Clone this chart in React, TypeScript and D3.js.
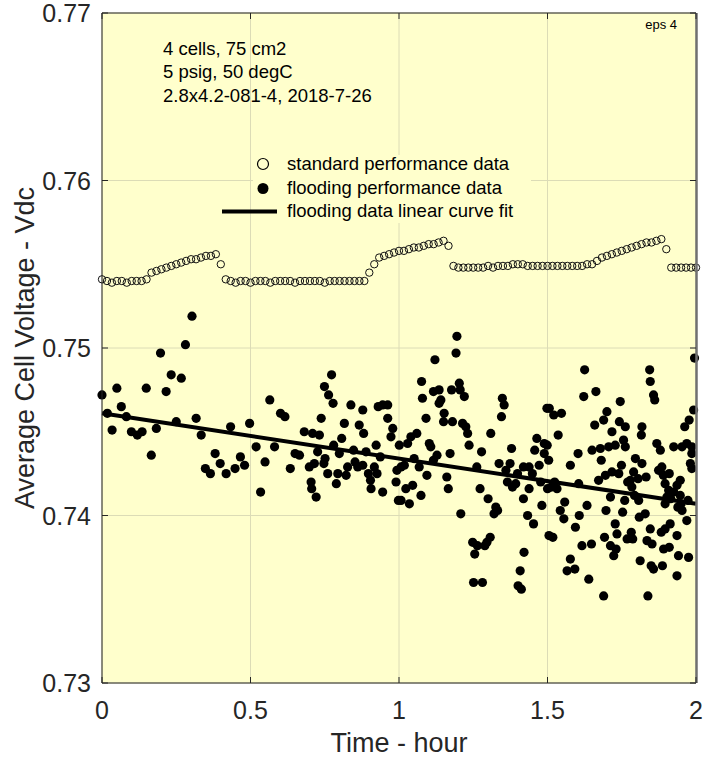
import React from "react";
import * as d3 from "d3";

// ---------- data ----------
const xTicks = [0, 0.5, 1, 1.5, 2];
const xTickLabels = ["0", "0.5", "1", "1.5", "2"];
const yTicks = [0.73, 0.74, 0.75, 0.76, 0.77];
const yTickLabels = ["0.73", "0.74", "0.75", "0.76", "0.77"];

// standard performance data, one sample per minute (0..120 min)
const stdV = [
  0.7541,
  0.7540, 0.7539, 0.7540, 0.7540, 0.7539, 0.7540, 0.7540, 0.7540, 0.7541,
  0.7545, 0.7546, 0.7547, 0.7548, 0.7549, 0.7550, 0.7551, 0.7552, 0.7553, 0.7553, 0.7554, 0.7555, 0.7555, 0.7556,
  0.7550,
  0.7541, 0.7540, 0.7539, 0.7540, 0.7540, 0.7539, 0.7540, 0.7540, 0.7540, 0.7539, 0.7540, 0.7540, 0.7540, 0.7540, 0.7539,
  0.7540, 0.7540, 0.7540, 0.7540, 0.7540, 0.7539, 0.7540, 0.7540, 0.7540, 0.7540, 0.7540, 0.7540, 0.7540, 0.7540,
  0.7545, 0.7550, 0.7554, 0.7555, 0.7556, 0.7557, 0.7558, 0.7558, 0.7559, 0.7560, 0.7560, 0.7561, 0.7562, 0.7562, 0.7563, 0.7564, 0.7561,
  0.7549, 0.7548, 0.7548, 0.7548, 0.7548, 0.7548, 0.7548, 0.7549, 0.7548, 0.7549, 0.7549, 0.7549, 0.7550, 0.7550, 0.7550,
  0.7549, 0.7549, 0.7549, 0.7549, 0.7549, 0.7549, 0.7549, 0.7549, 0.7549, 0.7549, 0.7549, 0.7549, 0.7550, 0.7550,
  0.7552, 0.7554, 0.7555, 0.7556, 0.7557, 0.7558, 0.7559, 0.7560, 0.7561, 0.7562, 0.7563, 0.7563, 0.7564, 0.7565,
  0.7559,
  0.7548, 0.7548, 0.7548, 0.7548, 0.7548, 0.7548,
];
const stdT = stdV.map((_, i) => i / 60);

// flooding performance data (time in hours, voltage)
const floodT = [
  0.000, 0.018, 0.050, 0.065, 0.082, 0.034, 0.099, 0.119, 0.135, 0.149, 0.166, 0.183, 0.197, 0.216, 0.233, 0.267,
  0.250, 0.281, 0.303, 0.317, 0.334, 0.348, 0.365, 0.381, 0.398, 0.418, 0.433, 0.448, 0.466, 0.480, 0.497,
  0.519, 0.549, 0.534, 0.565, 0.581, 0.601, 0.616, 0.634, 0.650, 0.665, 0.681, 0.709, 0.732, 0.738, 0.698, 0.715,
  0.704, 0.706, 0.721, 0.726, 0.751, 0.747, 0.760, 0.773, 0.749, 0.763, 0.778, 0.789, 0.794, 0.780, 0.799, 0.807,
  0.816, 0.822, 0.827, 0.838, 0.847, 0.852, 0.861, 0.866, 0.878, 0.881, 0.878, 0.889, 0.897, 0.904, 0.906, 0.917,
  0.923, 0.930, 0.945, 0.962, 0.962, 0.937, 0.945, 0.979, 0.973, 0.993, 0.990, 0.998, 1.001, 0.926,
  1.040, 1.060, 1.029, 1.007, 1.018, 1.023, 1.007, 1.035, 1.051, 1.068, 1.046, 1.074, 1.094, 1.076, 1.079, 1.091,
  1.102, 1.107, 1.121, 1.116, 1.135, 1.141, 1.135, 1.152, 1.150, 1.128, 1.116, 1.161, 1.166, 1.172, 1.180, 1.177,
  1.192, 1.195, 1.203, 1.206, 1.220, 1.214, 1.225, 1.231, 1.236, 1.208, 1.248, 1.264, 1.255, 1.289, 1.307, 1.296,
  1.251, 1.281, 1.262, 1.273, 1.278, 1.300, 1.309, 1.320, 1.326, 1.332, 1.337, 1.348, 1.354, 1.345, 1.360, 1.365,
  1.374, 1.379, 1.382, 1.393, 1.399, 1.419, 1.438, 1.419, 1.433, 1.453, 1.421, 1.408, 1.401, 1.412, 1.438, 1.449,
  1.464, 1.457, 1.472, 1.477, 1.481, 1.489, 1.498, 1.500, 1.505, 1.489,
  1.625, 1.622, 1.663, 1.506, 1.521, 1.547, 1.536, 1.499, 1.504, 1.513, 1.532, 1.524, 1.558, 1.543, 1.555, 1.518,
  1.577, 1.603, 1.605, 1.633, 1.607, 1.594, 1.616, 1.648, 1.577, 1.566, 1.592, 1.639, 1.689, 1.659, 1.650, 1.678,
  1.681, 1.689, 1.700, 1.706, 1.717, 1.728, 1.745, 1.742, 1.762, 1.756, 1.762, 1.749, 1.672, 1.695, 1.717, 1.740,
  1.712, 1.697, 1.753, 1.760, 1.779, 1.784, 1.796, 1.818, 1.793, 1.807, 1.818, 1.816, 1.832, 1.829, 1.809, 1.728,
  1.734, 1.692, 1.712, 1.731, 1.723, 1.768, 1.787, 1.782, 1.812, 1.835, 1.852, 1.846, 1.849, 1.857, 1.887, 1.838,
  1.844, 1.846, 1.857, 1.861, 1.868, 1.880, 1.874, 1.885, 1.910, 1.896, 1.908, 1.902, 1.896, 1.925, 1.947, 1.936,
  1.950, 1.939, 1.953, 1.969, 1.883, 1.896, 1.913, 1.891, 1.910, 1.936, 1.941, 1.975, 1.936, 1.925, 1.953, 1.969,
  1.986, 1.981, 1.986, 1.962, 1.977, 1.992, 1.995, 1.986, 1.947, 1.973, 1.770, 1.790, 1.805, 1.890, 1.915,
];
const floodV = [
  0.7472, 0.7461, 0.7476, 0.7465, 0.7459, 0.7451, 0.7450, 0.7448, 0.7450, 0.7476, 0.7436, 0.7452, 0.7497, 0.7474, 0.7484, 0.7482,
  0.7456, 0.7502, 0.7519, 0.7458, 0.7448, 0.7428, 0.7425, 0.7437, 0.7431, 0.7425, 0.7453, 0.7428, 0.7435, 0.7430, 0.7455,
  0.7441, 0.7432, 0.7414, 0.7469, 0.7441, 0.7461, 0.7459, 0.7428, 0.7437, 0.7436, 0.7450, 0.7449, 0.7448, 0.7458, 0.7429, 0.7431,
  0.7420, 0.7416, 0.7411, 0.7438, 0.7434, 0.7431, 0.7425, 0.7484, 0.7477, 0.7472, 0.7467, 0.7419, 0.7425, 0.7442, 0.7437, 0.7446,
  0.7455, 0.7424, 0.7429, 0.7466, 0.7439, 0.7432, 0.7429, 0.7454, 0.7463, 0.7449, 0.7430, 0.7438, 0.7425, 0.7421, 0.7416, 0.7429,
  0.7442, 0.7465, 0.7466, 0.7466, 0.7458, 0.7435, 0.7414, 0.7452, 0.7447, 0.7427, 0.7420, 0.7409, 0.7442, 0.7425,
  0.7447, 0.7449, 0.7443, 0.7429, 0.7430, 0.7416, 0.7409, 0.7407, 0.7434, 0.7429, 0.7418, 0.7412, 0.7424, 0.7480, 0.7470, 0.7458,
  0.7443, 0.7441, 0.7493, 0.7474, 0.7475, 0.7469, 0.7467, 0.7461, 0.7456, 0.7436, 0.7433, 0.7423, 0.7416, 0.7437, 0.7456, 0.7475,
  0.7497, 0.7507, 0.7479, 0.7475, 0.7471, 0.7455, 0.7453, 0.7449, 0.7442, 0.7401, 0.7384, 0.7382, 0.7377, 0.7382, 0.7387, 0.7384,
  0.7360, 0.7360, 0.7429, 0.7416, 0.7438, 0.7410, 0.7449, 0.7401, 0.7405, 0.7403, 0.7431, 0.7470, 0.7466, 0.7459, 0.7427, 0.7420,
  0.7431, 0.7440, 0.7417, 0.7419, 0.7425, 0.7429, 0.7416, 0.7410, 0.7400, 0.7395, 0.7378, 0.7367, 0.7358, 0.7356, 0.7429, 0.7425,
  0.7446, 0.7439, 0.7430, 0.7420, 0.7406, 0.7443, 0.7464, 0.7416, 0.7388, 0.7437,
  0.7487, 0.7471, 0.7474, 0.7464, 0.7460, 0.7461, 0.7448, 0.7442, 0.7433, 0.7417, 0.7416, 0.7420, 0.7408, 0.7403, 0.7398, 0.7387,
  0.7430, 0.7437, 0.7419, 0.7406, 0.7400, 0.7393, 0.7382, 0.7383, 0.7374, 0.7367, 0.7368, 0.7362, 0.7352, 0.7454, 0.7439, 0.7440,
  0.7433, 0.7457, 0.7462, 0.7441, 0.7450, 0.7442, 0.7468, 0.7456, 0.7453, 0.7445, 0.7441, 0.7430, 0.7421, 0.7424, 0.7426, 0.7425,
  0.7411, 0.7403, 0.7402, 0.7409, 0.7421, 0.7417, 0.7434, 0.7431, 0.7412, 0.7409, 0.7453, 0.7448, 0.7423, 0.7401, 0.7399, 0.7395,
  0.7389, 0.7387, 0.7382, 0.7380, 0.7376, 0.7386, 0.7386, 0.7390, 0.7373, 0.7385, 0.7383, 0.7392, 0.7370, 0.7368, 0.7370, 0.7352,
  0.7487, 0.7480, 0.7472, 0.7469, 0.7443, 0.7439, 0.7427, 0.7429, 0.7425, 0.7419, 0.7415, 0.7411, 0.7407, 0.7414, 0.7421, 0.7418,
  0.7407, 0.7405, 0.7403, 0.7397, 0.7390, 0.7392, 0.7395, 0.7380, 0.7381, 0.7388, 0.7376, 0.7375, 0.7364, 0.7441, 0.7441, 0.7443,
  0.7441, 0.7431, 0.7428, 0.7453, 0.7457, 0.7463, 0.7494, 0.7437, 0.7412, 0.7409, 0.7420, 0.7426, 0.7422, 0.7424, 0.7410,
];

// linear curve fit of the flooding data (end points)
const fitT = [0, 2];
const fitV = [0.7461, 0.7407];

const annotationLines = ["4 cells, 75 cm2", "5 psig, 50 degC", "2.8x4.2-081-4, 2018-7-26"];
const legendLabels = [
  "standard performance data",
  "flooding performance data",
  "flooding data linear curve fit",
];

// ---------- layout ----------
const W = 703;
const H = 757;
const L = 102;
const R = 696;
const T = 13;
const B = 683;
const BG = "#ffffcc";
const GRID = "#dcdcb6";
const AX = "#262626";
const FONT = "'Liberation Sans', Arial, Helvetica, sans-serif";

export default function App() {
  const x = d3.scaleLinear().domain([0, 2]).range([L, R]);
  const y = d3.scaleLinear().domain([0.73, 0.77]).range([B, T]);
  const fitLine = d3
    .line<number>()
    .x((d) => x(fitT[d]))
    .y((d) => y(fitV[d]));

  return (
    <svg
      width={W}
      height={H}
      style={{ position: "absolute", left: 0, top: 0, background: "#fff" }}
      fontFamily={FONT}
    >
      <rect x={L} y={T} width={R - L} height={B - T} fill={BG} />
      {/* grid */}
      {xTicks.map((t, i) => (
        <line key={"gx" + i} x1={x(t)} x2={x(t)} y1={T} y2={B} stroke={GRID} strokeWidth={1} />
      ))}
      {yTicks.map((t, i) => (
        <line key={"gy" + i} x1={L} x2={R} y1={y(t)} y2={y(t)} stroke={GRID} strokeWidth={1} />
      ))}
      {/* legend background hides grid */}
      <rect x={253} y={155} width={278} height={68} fill={BG} />

      {/* standard data */}
      {stdV.map((v, i) => (
        <circle key={"s" + i} cx={x(stdT[i])} cy={y(v)} r={3.7} fill="none" stroke="#111" strokeWidth={1} />
      ))}
      {/* flooding data */}
      {floodV.map((v, i) => (
        <circle key={"f" + i} cx={x(floodT[i])} cy={y(v)} r={4.6} fill="#000" />
      ))}
      {/* fit */}
      <path d={fitLine([0, 1]) || ""} stroke="#000" strokeWidth={4} fill="none" />

      {/* axes box */}
      <line x1={L} x2={R} y1={T} y2={T} stroke={AX} strokeWidth={1} />
      <line x1={L} x2={R} y1={B} y2={B} stroke={AX} strokeWidth={1} />
      <line x1={L} x2={L} y1={T} y2={B} stroke={AX} strokeWidth={1} />
      <line x1={R + 0.5} x2={R + 0.5} y1={T} y2={B} stroke="#707070" strokeWidth={2.5} />
      {/* ticks */}
      {xTicks.map((t, i) => (
        <g key={"tx" + i}>
          <line x1={x(t)} x2={x(t)} y1={B} y2={B - 6} stroke={AX} />
          <line x1={x(t)} x2={x(t)} y1={T} y2={T + 6} stroke={AX} />
          <text x={x(t)} y={B + 36} textAnchor="middle" fontSize={25} fill={AX}>
            {xTickLabels[i]}
          </text>
        </g>
      ))}
      {yTicks.map((t, i) => (
        <g key={"ty" + i}>
          <line x1={L} x2={L + 6} y1={y(t)} y2={y(t)} stroke={AX} />
          <line x1={R} x2={R - 6} y1={y(t)} y2={y(t)} stroke={AX} />
          <text x={L - 11} y={y(t) + 9} textAnchor="end" fontSize={25} fill={AX}>
            {yTickLabels[i]}
          </text>
        </g>
      ))}
      {/* axis labels */}
      <text x={(L + R) / 2} y={752} textAnchor="middle" fontSize={27} fill={AX}>
        Time - hour
      </text>
      <text
        transform={`translate(34,${(T + B) / 2}) rotate(-90)`}
        textAnchor="middle"
        fontSize={27}
        fill={AX}
      >
        Average Cell Voltage - Vdc
      </text>

      {/* annotation */}
      {annotationLines.map((s, i) => (
        <text key={"a" + i} x={163} y={55 + i * 23.3} fontSize={18.5} fill="#000">
          {s}
        </text>
      ))}
      <text x={677} y={29} textAnchor="end" fontSize={13} fill="#000">
        eps 4
      </text>

      {/* legend */}
      <circle cx={263} cy={164} r={5.5} fill="none" stroke="#000" strokeWidth={1.2} />
      <circle cx={263} cy={188.5} r={5.5} fill="#000" />
      <line x1={222} x2={277} y1={211.5} y2={211.5} stroke="#000" strokeWidth={4} />
      {legendLabels.map((s, i) => (
        <text key={"l" + i} x={287} y={170 + i * 23.5} fontSize={18.5} fill="#000">
          {s}
        </text>
      ))}
    </svg>
  );
}
